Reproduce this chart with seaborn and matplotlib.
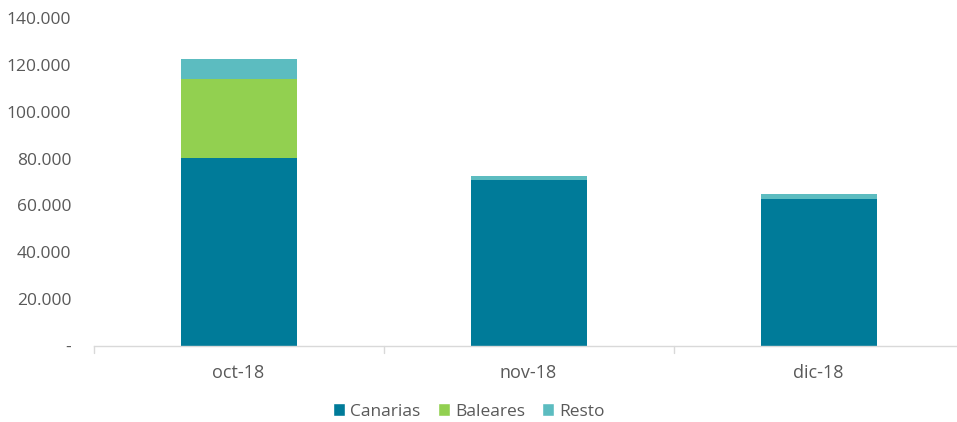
import numpy as np
import pandas as pd
import seaborn as sns
import matplotlib.pyplot as plt
from matplotlib.ticker import FuncFormatter
from matplotlib.patches import Patch

months = ['oct-18', 'nov-18', 'dic-18']
canarias = [80300, 70900, 62700]
baleares = [33700, 0, 0]
resto = [8600, 1800, 2000]

colors = {'Canarias': '#007B99', 'Baleares': '#92D050', 'Resto': '#5CBCC0'}
text_color = '#595959'

sns.set_theme(style='white')
plt.rcParams['font.family'] = ['Open Sans', 'DejaVu Sans']

df = pd.DataFrame({'mes': months, 'Canarias': canarias,
                   'Baleares': baleares, 'Resto': resto})
df['c1'] = df['Canarias']
df['c2'] = df['c1'] + df['Baleares']
df['c3'] = df['c2'] + df['Resto']

fig = plt.figure(figsize=(9.57, 4.22), dpi=100)
ax = fig.add_axes([93.5 / 957, 76 / 422, 870 / 957, 328 / 422])

# stacked bars drawn as cumulative overlays, top layer first
for col, name in [('c3', 'Resto'), ('c2', 'Baleares'), ('c1', 'Canarias')]:
    sns.barplot(data=df, x='mes', y=col, order=months, color=colors[name],
                saturation=1.0, width=0.4, ax=ax, linewidth=0)

ax.set_xlim(-0.5, 2.5)
ax.set_ylim(0, 140000)
ax.set_yticks(np.arange(0, 140001, 20000))
ax.yaxis.set_major_formatter(FuncFormatter(
    lambda v, p: '-' if v == 0 else f'{int(v):,}'.replace(',', '.')))
ax.set_xlabel('')
ax.set_ylabel('')

for s in ['top', 'right', 'left']:
    ax.spines[s].set_visible(False)
ax.spines['bottom'].set_color('#D9D9D9')
ax.spines['bottom'].set_linewidth(1.0)

ax.tick_params(axis='y', length=0, labelsize=12.5, labelcolor=text_color, pad=16)
ax.tick_params(axis='x', length=0, labelsize=13, labelcolor=text_color, pad=13)
# category separator ticks
for xb in [-0.5, 0.5, 1.5]:
    ax.plot([xb, xb], [0, -0.02], transform=ax.get_xaxis_transform(),
            color='#D9D9D9', lw=1.0, clip_on=False)

handles = [Patch(facecolor=colors[n], label=n) for n in ['Canarias', 'Baleares', 'Resto']]
leg = fig.legend(handles=handles, loc='center', bbox_to_anchor=(0.49, 0.025),
                 ncol=3, frameon=False, fontsize=12.5, handlelength=0.7,
                 handleheight=0.7, handletextpad=0.3, columnspacing=1.0)
for t in leg.get_texts():
    t.set_color(text_color)

fig.savefig('out.png', dpi=100)
